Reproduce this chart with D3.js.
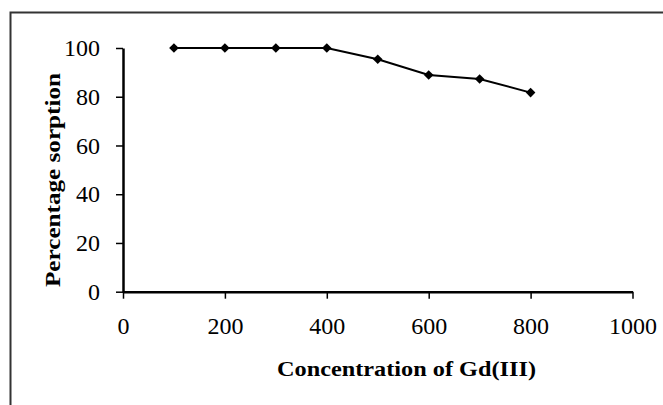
<!DOCTYPE html>
<html>
<head>
<meta charset="utf-8">
<script src="https://cdn.jsdelivr.net/npm/d3@7"></script>
<style>
  html, body { margin: 0; padding: 0; background: #fff; }
  svg { display: block; }
</style>
</head>
<body>
<svg id="chart" width="663" height="405"></svg>
<script>
const concentrations = [100, 200, 300, 400, 500, 600, 700, 800];
const sorption = [100, 100, 100, 100, 95.4, 88.9, 87.3, 81.7];
const xTicks = [0, 200, 400, 600, 800, 1000];
const yTicks = [0, 20, 40, 60, 80, 100];
const xTitle = "Concentration of Gd(III)";
const yTitle = "Percentage sorption";

const svg = d3.select("#chart");
const W = 663, H = 405;
const plot = { left: 123, right: 632.5, top: 48, bottom: 291.7 };

// outer border (top and left visible)
svg.append("path")
  .attr("d", `M10.5,${H + 2} V12.5 H${W + 2}`)
  .attr("fill", "none")
  .attr("stroke", "#333")
  .attr("stroke-width", 2);

const x = d3.scaleLinear().domain([0, 1000]).range([plot.left, plot.right]);
const y = d3.scaleLinear().domain([0, 100]).range([plot.bottom, plot.top]);

const fontTick = "'Liberation Serif', 'Times New Roman', serif";

// x axis
const xAxis = svg.append("g")
  .attr("transform", `translate(0,${plot.bottom})`)
  .call(d3.axisBottom(x).tickValues(xTicks).tickFormat(d3.format("d"))
    .tickSize(7).tickPadding(18).tickSizeOuter(0));
xAxis.select(".domain").attr("stroke", "#000").attr("stroke-width", 2.5);
xAxis.selectAll(".tick line").attr("stroke", "#000").attr("stroke-width", 1.5);
xAxis.selectAll(".tick text")
  .attr("fill", "#000")
  .style("font-family", fontTick)
  .style("font-size", "24px");

// y axis
const yAxis = svg.append("g")
  .attr("transform", `translate(${plot.left},0)`)
  .call(d3.axisLeft(y).tickValues(yTicks).tickFormat(d3.format("d"))
    .tickSize(7).tickPadding(16).tickSizeOuter(0));
yAxis.select(".domain").attr("stroke", "#000").attr("stroke-width", 2.5);
yAxis.selectAll(".tick line").attr("stroke", "#000").attr("stroke-width", 1.5);
yAxis.selectAll(".tick text")
  .attr("fill", "#000")
  .style("font-family", fontTick)
  .style("font-size", "24px");

// line
const data = concentrations.map((c, i) => ({ c, v: sorption[i] }));
svg.append("path")
  .datum(data)
  .attr("fill", "none")
  .attr("stroke", "#000")
  .attr("stroke-width", 2)
  .attr("d", d3.line().x(d => x(d.c)).y(d => y(d.v)));

// diamond markers
svg.selectAll(".marker")
  .data(data)
  .join("path")
  .attr("class", "marker")
  .attr("transform", d => `translate(${x(d.c)},${y(d.v)})`)
  .attr("d", "M0,-4.8 L4.8,0 L0,4.8 L-4.8,0 Z")
  .attr("fill", "#000");

// axis titles
svg.append("text")
  .attr("x", 406.5)
  .attr("y", 376)
  .attr("text-anchor", "middle")
  .attr("textLength", 259)
  .attr("lengthAdjust", "spacingAndGlyphs")
  .style("font-family", fontTick)
  .style("font-weight", "bold")
  .style("font-size", "22px")
  .attr("fill", "#000")
  .text(xTitle);

svg.append("text")
  .attr("transform", `translate(60,180) rotate(-90)`)
  .attr("text-anchor", "middle")
  .attr("textLength", 214)
  .attr("lengthAdjust", "spacingAndGlyphs")
  .style("font-family", fontTick)
  .style("font-weight", "bold")
  .style("font-size", "22px")
  .attr("fill", "#000")
  .text(yTitle);
</script>
</body>
</html>
